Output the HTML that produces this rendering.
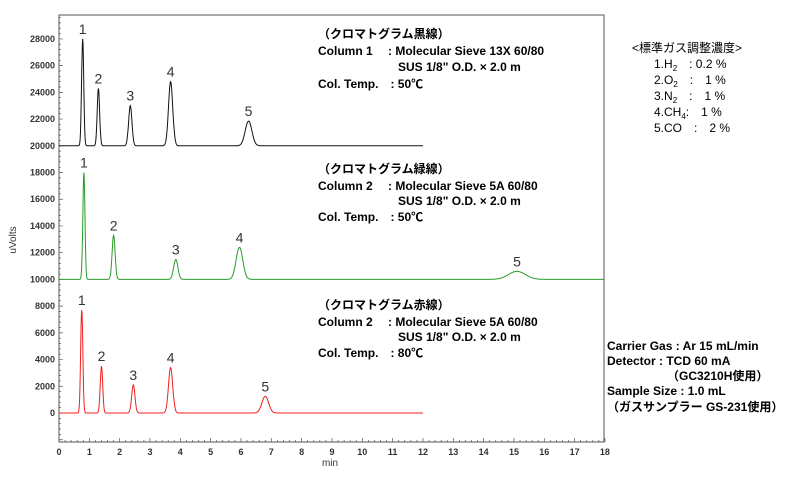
<!DOCTYPE html>
<html><head><meta charset="utf-8"><style>
body{margin:0;background:#fff;width:800px;height:473px;overflow:hidden}
svg text{font-family:"Liberation Sans","Noto Sans CJK JP",sans-serif}
.ann{font-size:12px;font-weight:bold;fill:#000}
.tk{font-size:9px;font-weight:bold;fill:#333}
.pk{font-size:14px;fill:#333}
</style></head><body>
<svg id="c" width="800" height="473" xmlns="http://www.w3.org/2000/svg">
<rect x="59" y="15" width="545" height="427" fill="none" stroke="#555" stroke-width="1"/>
<g id="ax"></g><g id="tr"></g><g id="lb"></g>
<text x="330" y="466" text-anchor="middle" font-size="10" fill="#333">min</text>
<text transform="translate(16,240) rotate(-90)" text-anchor="middle" font-size="10" fill="#333">uVolts</text>
<g class="ann">
<text x="318" y="38">（クロマトグラム黒線）</text>
<text x="318" y="55">Column 1　 : Molecular Sieve 13X 60/80</text>
<text x="398" y="71">SUS 1/8" O.D. × 2.0 m</text>
<text x="318" y="88">Col. Temp.　: 50℃</text></g>
<g class="ann">
<text x="318" y="173">（クロマトグラム緑線）</text>
<text x="318" y="190">Column 2　 : Molecular Sieve 5A 60/80</text>
<text x="398" y="205">SUS 1/8" O.D. × 2.0 m</text>
<text x="318" y="221">Col. Temp.　: 50℃</text></g>
<g class="ann">
<text x="318" y="309">（クロマトグラム赤線）</text>
<text x="318" y="326">Column 2　 : Molecular Sieve 5A 60/80</text>
<text x="398" y="341">SUS 1/8" O.D. × 2.0 m</text>
<text x="318" y="357">Col. Temp.　: 80℃</text></g>
<g font-size="12" fill="#000">
<text x="632" y="52">&lt;標準ガス調整濃度&gt;</text>
<text x="654" y="68">1.H<tspan font-size="8" dy="3">2</tspan><tspan dy="-3">　: 0.2 %</tspan></text>
<text x="654" y="84">2.O<tspan font-size="8" dy="3">2</tspan><tspan dy="-3">　:　1 %</tspan></text>
<text x="654" y="100">3.N<tspan font-size="8" dy="3">2</tspan><tspan dy="-3">　:　1 %</tspan></text>
<text x="654" y="116">4.CH<tspan font-size="8" dy="3">4</tspan><tspan dy="-3">:　1 %</tspan></text>
<text x="654" y="132">5.CO　:　2 %</text></g>
<g class="ann">
<text x="607" y="350">Carrier Gas : Ar 15 mL/min</text>
<text x="607" y="365">Detector : TCD 60 mA</text>
<text x="667" y="380">（GC3210H使用）</text>
<text x="607" y="395">Sample Size : 1.0 mL</text>
<text x="607" y="411">（ガスサンプラー GS-231使用）</text></g>
</svg>
<script>
const xTicks=[0,1,2,3,4,5,6,7,8,9,10,11,12,13,14,15,16,17,18];
const yTicks=[0,2000,4000,6000,8000,10000,12000,14000,16000,18000,20000,22000,24000,26000,28000];
const blackTimes=[0.78,1.3,2.35,3.68,6.25];
const blackHeights=[8000,4300,3000,4800,1850];
const blackWidths=[0.035,0.04,0.055,0.07,0.11];
const greenTimes=[0.82,1.8,3.85,5.95,15.1];
const greenHeights=[8000,3300,1500,2400,600];
const greenWidths=[0.035,0.05,0.07,0.11,0.28];
const redTimes=[0.75,1.4,2.45,3.68,6.8];
const redHeights=[7700,3500,2100,3400,1250];
const redWidths=[0.035,0.04,0.055,0.07,0.11];
const ns="http://www.w3.org/2000/svg";
const X=t=>59+t*30.33, Y=v=>413-v*0.01336;
const ax=document.getElementById('ax'),tr=document.getElementById('tr'),lb=document.getElementById('lb');
function mk(tag,at,par){const e=document.createElementNS(ns,tag);for(const k in at)e.setAttribute(k,at[k]);par.appendChild(e);return e;}
let d='';
for(let i=0;i<=90;i++){const x=X(i*0.2);d+=`M${x},442v${i%5==0?-4:-2}`;}
for(let v=-2000;v<=29800;v+=400){const y=Y(v);if(y<15)break;d+=`M59,${y}h${v%2000==0?4:2}`;}
const tp=mk('path',{d:d,stroke:'#555','stroke-width':0.7,fill:'none'},ax);


xTicks.forEach(t=>{const e=mk('text',{x:X(t),y:455,'text-anchor':'middle',class:'tk'},ax);e.textContent=t;

});
yTicks.forEach(v=>{const e=mk('text',{x:55,y:Y(v)+3,'text-anchor':'end',class:'tk'},ax);e.textContent=v;

});
function trace(times,hs,ws,base,end,col,name,lcol){
 let p='';for(let t=0;t<=end;t+=0.01){let v=base;times.forEach((c,i)=>{const s=ws[i];const z=(t-c)/s;v+=hs[i]*Math.exp(-0.5*z*z)*(t>c?1:1);});p+=(p?'L':'M')+X(t).toFixed(1)+','+Y(v).toFixed(1);}
 const e=mk('path',{d:p,stroke:col,'stroke-width':1,fill:'none'},tr);
 
 
 times.forEach((c,i)=>{const l=mk('text',{x:X(c),y:Y(base+hs[i])-5,'text-anchor':'middle',class:'pk',fill:i==0?'#8b3a2a':'#333'},lb);l.textContent=i+1;
 
 });
}
trace(blackTimes,blackHeights,blackWidths,20000,12,'#111','black-trace');
trace(greenTimes,greenHeights,greenWidths,10000,18,'#2a9a2a','green-trace');
trace(redTimes,redHeights,redWidths,0,12,'#f02020','red-trace');
</script>
</body></html>
